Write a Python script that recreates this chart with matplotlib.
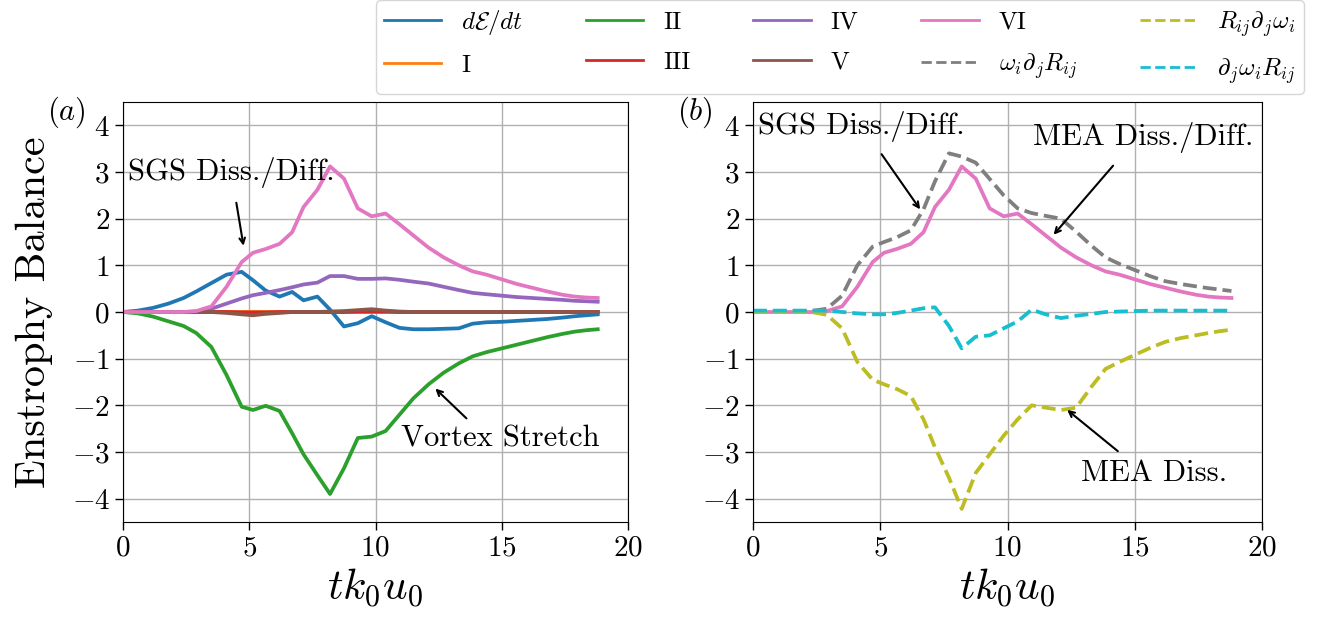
import numpy as np
import matplotlib
matplotlib.use('Agg')
import matplotlib.pyplot as plt

plt.rcParams['font.family'] = 'serif'
plt.rcParams['font.serif'] = ['cmr10', 'DejaVu Serif']
plt.rcParams['mathtext.fontset'] = 'cm'
plt.rcParams['axes.formatter.use_mathtext'] = True

# time samples (t k0 u0)
t = [0.0, 0.6, 1.2, 1.8, 2.4, 2.9, 3.5, 4.1, 4.7, 5.15, 5.65, 6.2, 6.7, 7.15,
     7.7, 8.2, 8.75, 9.3, 9.85, 10.4, 10.95, 11.5, 12.1, 12.7, 13.3, 13.85,
     14.4, 15.0, 15.6, 16.2, 16.8, 17.4, 17.9, 18.35, 18.8]

# panel (a): enstrophy budget terms
dEdt = [0.0, 0.03, 0.09, 0.18, 0.3, 0.44, 0.62, 0.8, 0.86, 0.68, 0.46, 0.33,
        0.43, 0.25, 0.33, 0.05, -0.31, -0.24, -0.09, -0.22, -0.34, -0.37,
        -0.37, -0.36, -0.35, -0.25, -0.22, -0.21, -0.19, -0.17, -0.15, -0.12,
        -0.09, -0.07, -0.05]
term_I = [0.0] * 35
term_II = [0.0, -0.03, -0.1, -0.2, -0.3, -0.45, -0.75, -1.35, -2.03, -2.1,
           -2.01, -2.12, -2.6, -3.05, -3.5, -3.9, -3.35, -2.7, -2.67, -2.55,
           -2.2, -1.85, -1.55, -1.3, -1.1, -0.95, -0.86, -0.78, -0.7, -0.62,
           -0.54, -0.47, -0.42, -0.39, -0.37]
term_III = [0.0, 0.0, 0.0, 0.0, 0.0, 0.0, 0.0, 0.0, -0.01, -0.01, -0.01, 0.0,
            0.0, 0.0, 0.0, 0.0, 0.0, 0.01, 0.01, 0.01, 0.0, 0.0, 0.0, 0.0,
            0.0, 0.0, 0.0, 0.0, 0.0, 0.0, 0.0, 0.0, 0.0, 0.0, 0.0]
term_IV = [0.0, 0.0, 0.0, 0.0, 0.0, 0.01, 0.07, 0.18, 0.29, 0.36, 0.41, 0.47,
           0.53, 0.59, 0.63, 0.77, 0.77, 0.71, 0.71, 0.72, 0.69, 0.65, 0.61,
           0.54, 0.47, 0.41, 0.38, 0.35, 0.32, 0.3, 0.28, 0.26, 0.24, 0.23,
           0.22]
term_V = [0.0, 0.0, 0.0, 0.0, 0.0, 0.0, 0.0, -0.02, -0.05, -0.07, -0.04,
          -0.02, 0.0, 0.0, 0.0, 0.01, 0.02, 0.04, 0.06, 0.03, 0.01, 0.0, 0.0,
          0.0, 0.0, 0.0, 0.0, 0.0, 0.0, 0.0, 0.0, 0.0, 0.0, 0.0, 0.0]
term_VI = [0.0, 0.0, 0.0, 0.0, 0.0, 0.02, 0.12, 0.54, 1.07, 1.27, 1.35, 1.46,
           1.71, 2.25, 2.62, 3.12, 2.86, 2.22, 2.05, 2.11, 1.88, 1.64, 1.38,
           1.17, 1.0, 0.87, 0.8, 0.7, 0.6, 0.52, 0.44, 0.37, 0.33, 0.31, 0.3]

# panel (b): MEA decomposition
w_dR = [0.02, 0.02, 0.02, 0.02, 0.03, 0.07, 0.35, 1.0, 1.4, 1.5, 1.6, 1.75,
        2.2, 2.8, 3.4, 3.33, 3.2, 2.85, 2.5, 2.22, 2.12, 2.06, 2.0, 1.72,
        1.42, 1.17, 1.03, 0.9, 0.77, 0.66, 0.6, 0.55, 0.51, 0.48, 0.45]
R_dw = [0.0, 0.0, 0.0, 0.0, -0.01, -0.06, -0.35, -1.07, -1.45, -1.55, -1.65,
        -1.8, -2.3, -2.9, -3.55, -4.22, -3.45, -3.05, -2.65, -2.3, -2.0,
        -2.05, -2.1, -2.05, -1.6, -1.22, -1.07, -0.92, -0.77, -0.64, -0.56,
        -0.5, -0.45, -0.41, -0.38]
dw_R = [0.03, 0.03, 0.03, 0.03, 0.03, 0.03, 0.0, -0.03, -0.05, -0.05, -0.02,
        0.03, 0.08, 0.1, -0.3, -0.78, -0.53, -0.5, -0.35, -0.2, 0.05, -0.05,
        -0.13, -0.08, -0.04, 0.0, 0.01, 0.02, 0.03, 0.03, 0.03, 0.03, 0.03,
        0.03, 0.03]

lw = 2.7
fig = plt.figure(figsize=(13.19, 6.23), dpi=100)
ax1 = fig.add_axes([123 / 1319, 101 / 623, 505 / 1319, 420 / 623])
ax2 = fig.add_axes([753 / 1319, 101 / 623, 509 / 1319, 420 / 623])

ax1.plot(t, dEdt, color='C0', lw=lw, label=r'$d\mathcal{E}/dt$')
ax1.plot(t, term_I, color='C1', lw=lw, label='I')
ax1.plot(t, term_II, color='C2', lw=lw, label='II')
ax1.plot(t, term_III, color='C3', lw=lw, label='III')
ax1.plot(t, term_IV, color='C4', lw=lw, label='IV')
ax1.plot(t, term_V, color='C5', lw=lw, label='V')
ax1.plot(t, term_VI, color='C6', lw=lw, label='VI')

ax2.plot(t, term_VI, color='C6', lw=lw)
ax2.plot(t, w_dR, '--', color='C7', lw=lw, label=r'$\omega_i\partial_jR_{ij}$')
ax2.plot(t, R_dw, '--', color='C8', lw=lw, label=r'$R_{ij}\partial_j\omega_i$')
ax2.plot(t, dw_R, '--', color='C9', lw=lw, label=r'$\partial_j\omega_iR_{ij}$')

for ax, tag in [(ax1, 'a'), (ax2, 'b')]:
    ax.set_xlim(0, 20)
    ax.set_ylim(-4.5, 4.5)
    ax.set_xticks([0, 5, 10, 15, 20])
    ax.set_yticks([-4, -3, -2, -1, 0, 1, 2, 3, 4])
    ax.grid(True, color='#b0b0b0', lw=1.0)
    ax.tick_params(labelsize=21, length=6, width=1.0)
    ax.set_xlabel(r'$tk_0u_0$', fontsize=31)
    ax.text(-0.15, 0.976, r'$(%s)$' % tag, transform=ax.transAxes,
            fontsize=22, ha='left', va='center')

ax1.set_ylabel('Enstrophy Balance', fontsize=30.5, labelpad=13)

arrow = dict(arrowstyle='->', color='k', lw=1.5)
ax1.text(0.2, 3.0, 'SGS Diss./Diff.', fontsize=22, ha='left', va='center')
ax1.annotate('', xy=(4.79, 1.36), xytext=(4.47, 2.4), arrowprops=arrow)
ax1.text(11.0, -2.72, 'Vortex Stretch', fontsize=22, ha='left', va='center')
ax1.annotate('', xy=(12.29, -1.6), xytext=(13.68, -2.32), arrowprops=arrow)

ax2.text(0.2, 3.98, 'SGS Diss./Diff.', fontsize=22, ha='left', va='center')
ax2.annotate('', xy=(6.63, 2.15), xytext=(4.99, 3.43), arrowprops=arrow)
ax2.text(11.0, 3.74, 'MEA Diss./Diff.', fontsize=22, ha='left', va='center')
ax2.annotate('', xy=(11.74, 1.61), xytext=(14.22, 3.18), arrowprops=arrow)
ax2.text(12.9, -3.45, 'MEA Diss.', fontsize=22, ha='left', va='center')
ax2.annotate('', xy=(12.26, -2.06), xytext=(14.42, -3.02), arrowprops=arrow)

h1, l1 = ax1.get_legend_handles_labels()
h2, l2 = ax2.get_legend_handles_labels()
leg = fig.legend(h1 + h2, l1 + l2, loc='upper right', ncol=5, fontsize=18,
                 handlelength=2.3, columnspacing=2.5, labelspacing=0.7,
                 borderpad=0.3, bbox_to_anchor=(1316 / 1319, 1.02))
for line in leg.get_lines():
    line.set_linewidth(2.0)

fig.savefig('out.png', dpi=100)
